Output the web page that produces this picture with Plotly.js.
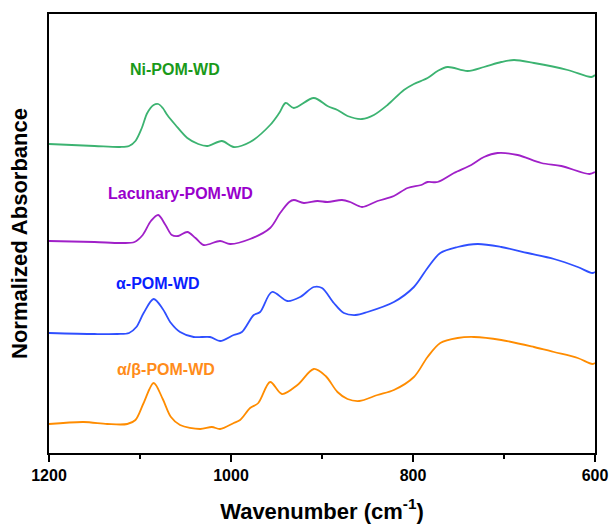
<!DOCTYPE html>
<html>
<head>
<meta charset="utf-8">
<script src="https://cdn.plot.ly/plotly-3.0.1.min.js"></script>
<style>html,body{margin:0;padding:0;background:#fff;}#chart{width:615px;height:527px;}</style>
</head>
<body>
<div id="chart"></div>
<script>
// Ni-POM-WD
const niWn  = [1200,1150,1122,1112,1105,1098,1092,1085,1080,1075,1070,1061,1048,1036,1026,1010,997,979,957,947,940,931,909,894,883,872,856,843,828,810,799,784,773,762,740,722,703,689,667,630,604,600];
const niAbs = [3.09,3.07,3.06,3.07,3.12,3.25,3.40,3.48,3.49,3.45,3.38,3.28,3.15,3.09,3.07,3.12,3.06,3.11,3.28,3.40,3.50,3.45,3.55,3.47,3.43,3.37,3.34,3.38,3.48,3.63,3.69,3.75,3.82,3.86,3.82,3.86,3.91,3.93,3.90,3.83,3.76,3.78];
// Lacunary-POM-WD
const lacWn  = [1200,1150,1120,1106,1097,1088,1080,1072,1065,1058,1048,1039,1030,1012,1001,979,957,946,936,931,920,905,894,878,869,856,839,821,806,791,784,773,755,736,722,707,685,659,637,606,600];
const lacAbs = [2.12,2.11,2.10,2.11,2.18,2.32,2.38,2.28,2.18,2.17,2.21,2.15,2.08,2.12,2.09,2.14,2.25,2.40,2.51,2.53,2.50,2.52,2.51,2.53,2.51,2.46,2.52,2.57,2.65,2.68,2.71,2.71,2.80,2.88,2.96,3.00,2.98,2.90,2.87,2.79,2.81];
// α-POM-WD
const alphaWn  = [1200,1150,1125,1112,1104,1096,1085,1075,1066,1056,1041,1023,1012,997,988,975,968,955,938,924,909,900,887,876,863,850,821,799,784,770,751,729,703,674,645,619,603,600];
const alphaAbs = [1.20,1.19,1.19,1.20,1.26,1.40,1.54,1.44,1.30,1.21,1.16,1.16,1.12,1.18,1.21,1.38,1.41,1.61,1.52,1.56,1.66,1.65,1.50,1.40,1.38,1.41,1.51,1.66,1.85,2.00,2.06,2.09,2.06,2.00,1.94,1.86,1.80,1.81];
// α/β-POM-WD
const abWn  = [1200,1162,1136,1114,1105,1096,1085,1075,1066,1056,1034,1021,1012,997,990,979,970,957,944,927,909,896,883,872,859,839,821,799,784,770,751,733,703,667,645,619,603,600];
const abAbs = [0.29,0.31,0.29,0.29,0.33,0.50,0.70,0.54,0.36,0.28,0.24,0.26,0.24,0.30,0.33,0.45,0.50,0.71,0.59,0.68,0.84,0.77,0.61,0.54,0.52,0.58,0.63,0.76,0.96,1.10,1.15,1.16,1.13,1.06,1.01,0.95,0.89,0.90];

const seriesNames = ['Ni-POM-WD','Lacunary-POM-WD','α-POM-WD','α/β-POM-WD'];
const lineColors  = ['#3cb371','#a020c8','#2f4fff','#ff8c00'];
const textColors  = ['#1a9a1a','#9900cc','#0a1eff','#ff8c1a'];
const labelX = [1062,1055,1080,1071];
const labelY = [3.84,2.60,1.70,0.84];
const tickVals = [1200,1000,800,600];

const xs = [niWn, lacWn, alphaWn, abWn];
const ys = [niAbs, lacAbs, alphaAbs, abAbs];

const traces = xs.map((x,i)=>({
  x: x, y: ys[i], type:'scatter', mode:'lines', name: seriesNames[i],
  line:{color: lineColors[i], width:1.8, shape:'spline', smoothing:0.9},
  hoverinfo:'skip'
}));

const annotations = seriesNames.map((n,i)=>({
  x: labelX[i], y: labelY[i], xref:'x', yref:'y', text:'<b>'+n+'</b>', showarrow:false,
  font:{family:'Liberation Sans, Arial, sans-serif', size:16, color:textColors[i]},
  xanchor:'center', yanchor:'middle'
}));

const layout = {
  width:615, height:527,
  margin:{l:49, r:20, t:14, b:74},
  paper_bgcolor:'#fff', plot_bgcolor:'#fff',
  showlegend:false,
  font:{family:'Liberation Sans, Arial, sans-serif', color:'#000'},
  xaxis:{
    range:[1200,600], autorange:false,
    tickvals: tickVals, ticktext: tickVals.map(v=>'<b>'+v+'</b>'),
    ticks:'outside', ticklen:7, tickwidth:1.5, tickcolor:'#000',
    minor:{dtick:100, tick0:600, ticks:'outside', ticklen:4, tickwidth:1.5, tickcolor:'#000', showgrid:false},
    showline:true, linecolor:'#000', linewidth:1.8, mirror:true,
    showgrid:false, zeroline:false,
    tickfont:{size:16, family:'Liberation Sans, Arial, sans-serif', color:'#000'},
    title:{text:'<b>Wavenumber (cm<sup>-1</sup>)</b>', font:{size:22, color:'#000'}, standoff:20}
  },
  yaxis:{
    range:[0,4.39], autorange:false,
    showticklabels:false, ticks:'',
    showline:true, linecolor:'#000', linewidth:1.8, mirror:true,
    showgrid:false, zeroline:false,
    title:{text:'<b>Normalized Absorbance</b>', font:{size:22, color:'#000'}, standoff:13}
  },
  annotations: annotations
};

Plotly.newPlot('chart', traces, layout, {staticPlot:true, displayModeBar:false});
</script>
</body>
</html>
